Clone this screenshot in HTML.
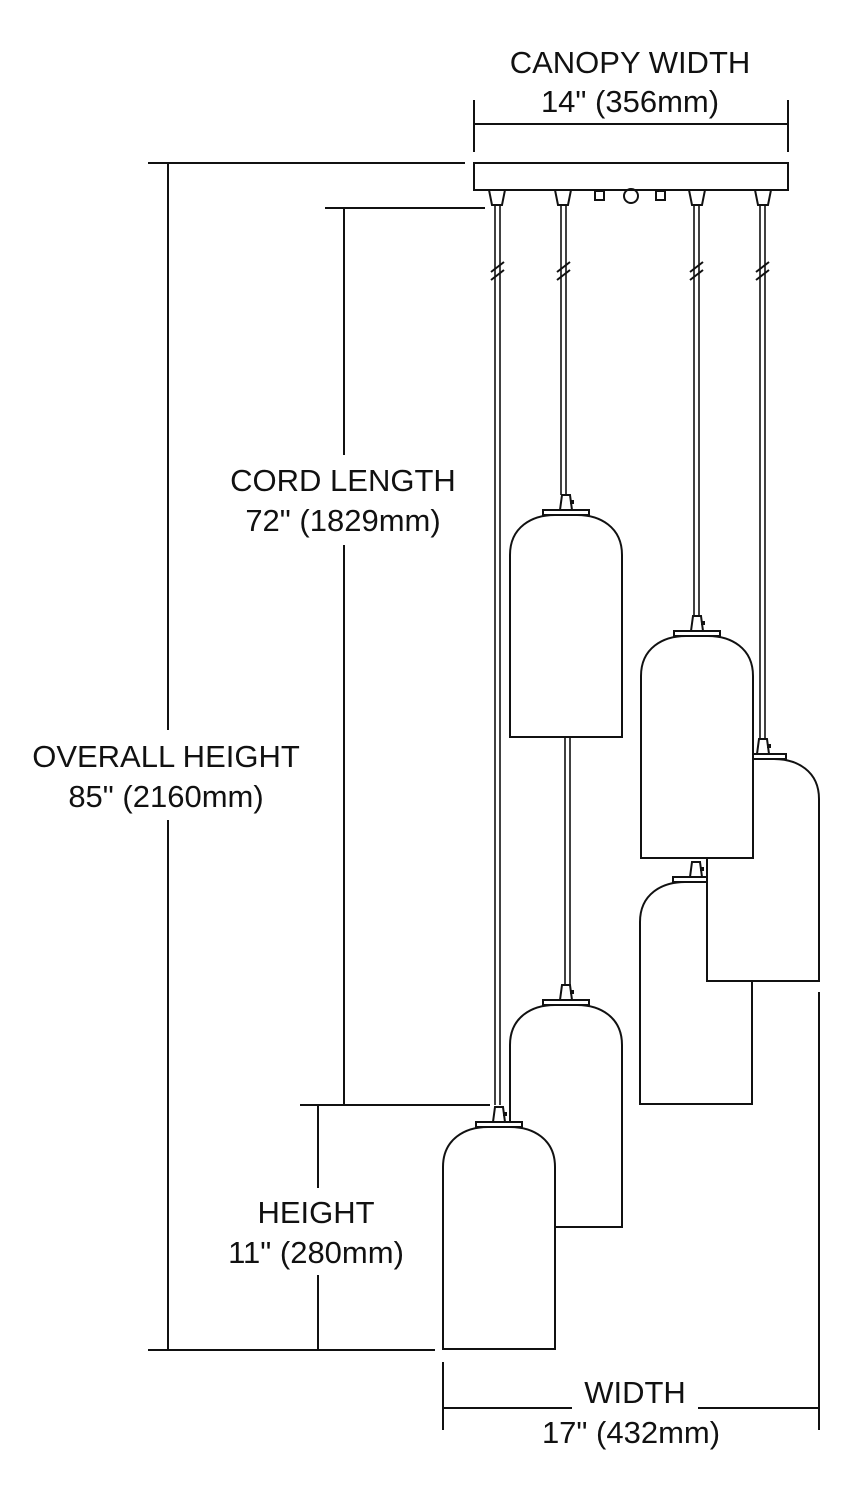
<!DOCTYPE html>
<html><head><style>body{margin:0;background:#fff}svg{display:block}text{font-family:"Liberation Sans",Arial,sans-serif;font-size:31px;fill:#111;text-anchor:middle}</style></head>
<body>
<svg width="850" height="1500" viewBox="0 0 850 1500" xmlns="http://www.w3.org/2000/svg">
<defs>
<g id="shade" stroke="#111" stroke-width="2" fill="#fff">
<path d="M0,222 V40 C0,12 22,0 45,0 H67 C90,0 112,12 112,40 V222 Z"/>
<rect x="33" y="-5" width="46" height="5"/>
<polygon points="50,-5 62,-5 60,-20 52,-20"/>
<rect x="60" y="-15" width="4" height="4" fill="#111" stroke="none"/>
</g>
<g id="fit" stroke="#111" stroke-width="2" fill="#fff"><polygon points="-8,0 8,0 5,15 -5,15"/></g>
</defs>
<g stroke="#111" stroke-width="2" fill="none">
<line x1="474" y1="100" x2="474" y2="152"/><line x1="788" y1="100" x2="788" y2="152"/>
<line x1="474" y1="124" x2="788" y2="124"/>
<rect x="474" y="163" width="314" height="27" fill="#fff"/>
<rect x="595" y="191" width="9" height="9"/><circle cx="631" cy="196" r="7"/><rect x="656" y="191" width="9" height="9"/>
<line x1="148" y1="163" x2="465" y2="163"/><line x1="148" y1="1350" x2="435" y2="1350"/>
<line x1="168" y1="163" x2="168" y2="730"/><line x1="168" y1="820" x2="168" y2="1350"/>
<line x1="325" y1="208" x2="485" y2="208"/><line x1="300" y1="1105" x2="490" y2="1105"/>
<line x1="344" y1="208" x2="344" y2="455"/><line x1="344" y1="545" x2="344" y2="1105"/>
<line x1="318" y1="1105" x2="318" y2="1188"/><line x1="318" y1="1275" x2="318" y2="1350"/>
<line x1="443" y1="1362" x2="443" y2="1430"/><line x1="819" y1="992" x2="819" y2="1430"/>
<line x1="443" y1="1408" x2="572" y2="1408"/><line x1="698" y1="1408" x2="819" y2="1408"/>
<g stroke-width="1.6">
<line x1="495" y1="205" x2="495" y2="1105"/><line x1="500" y1="205" x2="500" y2="1105"/>
<line x1="561" y1="205" x2="561" y2="495"/><line x1="566" y1="205" x2="566" y2="495"/>
<line x1="565" y1="737" x2="565" y2="985"/><line x1="570" y1="737" x2="570" y2="985"/>
<line x1="694" y1="205" x2="694" y2="617"/><line x1="699" y1="205" x2="699" y2="617"/>
<line x1="760" y1="205" x2="760" y2="740"/><line x1="765" y1="205" x2="765" y2="740"/>
</g>
<g stroke-width="2">
<line x1="491" y1="272" x2="504" y2="262"/><line x1="491" y1="280" x2="504" y2="270"/>
<line x1="557" y1="272" x2="570" y2="262"/><line x1="557" y1="280" x2="570" y2="270"/>
<line x1="690" y1="272" x2="703" y2="262"/><line x1="690" y1="280" x2="703" y2="270"/>
<line x1="756" y1="272" x2="769" y2="262"/><line x1="756" y1="280" x2="769" y2="270"/>
</g>
</g>
<use href="#fit" x="497" y="190"/><use href="#fit" x="563" y="190"/><use href="#fit" x="697" y="190"/><use href="#fit" x="763" y="190"/>
<use href="#shade" x="640" y="882"/>
<use href="#shade" x="707" y="759"/>
<use href="#shade" x="641" y="636"/>
<use href="#shade" x="510" y="515"/>
<use href="#shade" x="510" y="1005"/>
<use href="#shade" x="443" y="1127"/>
<text x="630" y="73">CANOPY WIDTH</text><text x="630" y="112">14" (356mm)</text>
<text x="343" y="491">CORD LENGTH</text><text x="343" y="531">72" (1829mm)</text>
<text x="166" y="767">OVERALL HEIGHT</text><text x="166" y="807">85" (2160mm)</text>
<text x="316" y="1223">HEIGHT</text><text x="316" y="1263">11" (280mm)</text>
<text x="635" y="1403">WIDTH</text><text x="631" y="1443">17" (432mm)</text>
</svg>
</body></html>
